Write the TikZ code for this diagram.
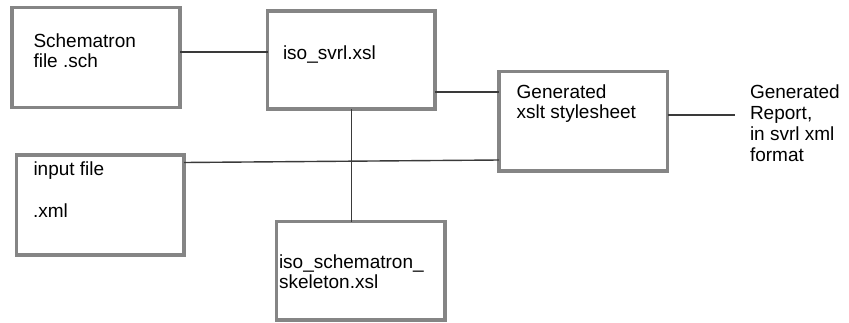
\documentclass[tikz,border=0pt]{standalone}
\usepackage{fontspec}
\setmainfont{Liberation Sans}
\definecolor{boxgray}{HTML}{858585}
\definecolor{linegray}{HTML}{3A3A3A}
\begin{document}
\begin{tikzpicture}[x=1pt,y=-1pt,
  box/.style={draw=boxgray,line width=3.2pt,inner sep=0pt,outer sep=0pt},
  lbl/.style={anchor=base west,inner sep=0pt,outer sep=0pt,font=\fontsize{19}{21}\selectfont,text=black},
  link/.style={draw=linegray,line width=1.4pt}]
\useasboundingbox (0,0) rectangle (849,322);
% boxes
\node[box,minimum width=168pt,minimum height=100pt] (A) at (96,57.5) {};
\node[box,minimum width=167.5pt,minimum height=98pt] (B) at (351.25,60) {};
\node[box,minimum width=167.5pt,minimum height=100pt] (C) at (100.25,205) {};
\node[box,minimum width=168.5pt,minimum height=98.5pt] (D) at (360.75,270.75) {};
\node[box,minimum width=168.5pt,minimum height=99.3pt] (E) at (583.25,121.35) {};
% texts
\node[lbl] (a1) at (33.5,47) {Schematron};
\node[lbl] (a2) at (33.5,67) {file .sch};
\node[lbl] (b1) at (283,59) {iso\_svrl.xsl};
\node[lbl] (c1) at (33.5,175) {input file};
\node[lbl] (c2) at (33,217.3) {.xml};
\node[lbl] (d1) at (279,268.5) {iso\_schematron\_};
\node[lbl] (d2) at (279,288.5) {skeleton.xsl};
\node[lbl] (e1) at (516.7,98.5) {Generated};
\node[lbl] (e2) at (516.7,118.5) {xslt stylesheet};
\node[lbl] (r1) at (750,98.8) {Generated};
\node[lbl] (r2) at (750,119.8) {Report,};
\node[lbl] (r3) at (750,140.8) {in svrl xml};
\node[lbl] (r4) at (750,161.8) {format};
\coordinate (rpt) at (735,115);
% connectors
\draw[link] (A.east |- 0,52) -- (B.west |- 0,52);
\draw[link] (B.east |- 0,92) -- (E.west |- 0,92);
\draw[link] (B.south) -- (B.south |- D.north);
\draw[link] (C.east |- 0,162.5) -- (E.west |- 0,160);
\draw[link] (E.east |- 0,115) -- (rpt);
\end{tikzpicture}
\end{document}
